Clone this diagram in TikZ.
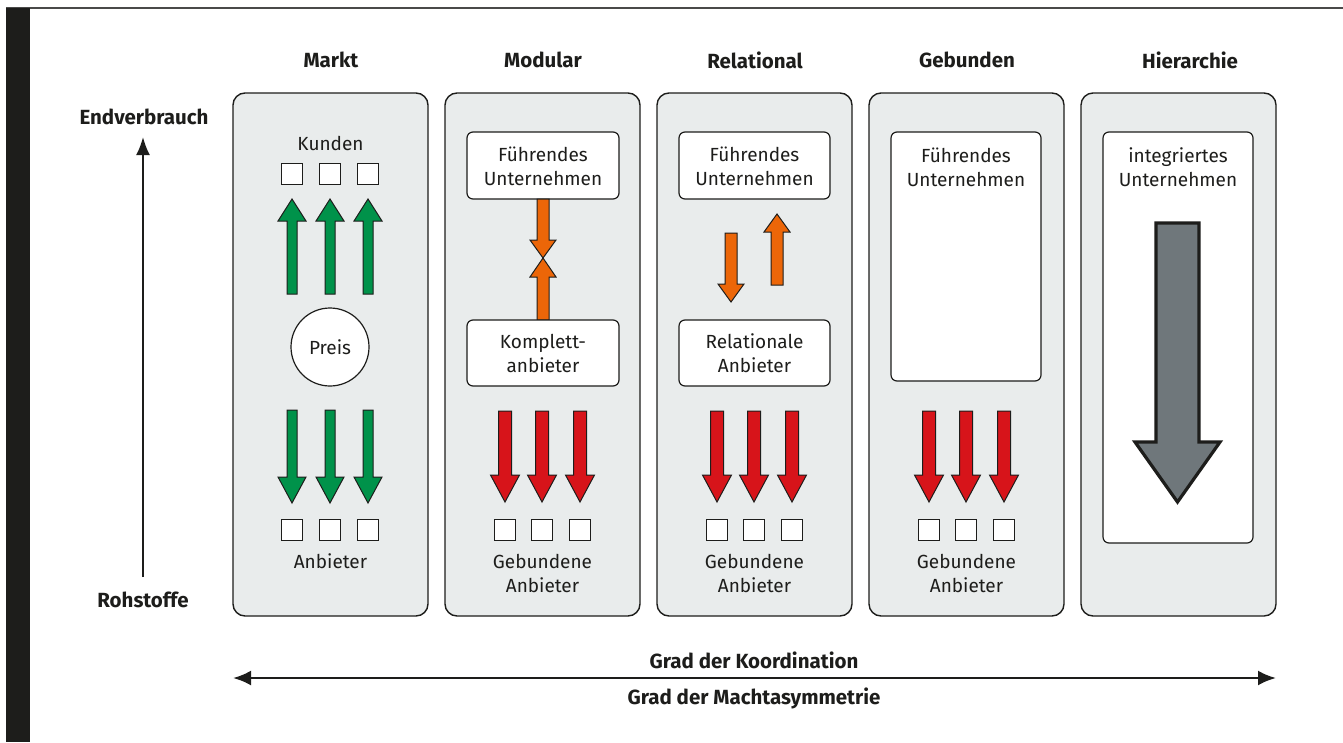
\documentclass[tikz,border=0pt]{standalone}
\usepackage{fontspec}
\setmainfont{Fira Sans}
\usetikzlibrary{arrows.meta}
\definecolor{ink}{HTML}{1D1D1B}
\definecolor{panelgray}{HTML}{E9ECEC}
\definecolor{mgreen}{HTML}{00924A}
\definecolor{mred}{HTML}{D7141A}
\definecolor{morange}{HTML}{EC6608}
\definecolor{hgray}{HTML}{6F777B}
\def\fatarrow[#1](#2,#3,#4,#5)(#6,#7){\draw[#1] ({#2-#6},#3) -- ({#2+#6},#3) -- ({#2+#6},#4) -- ({#2+#7},#4) -- (#2,#5) -- ({#2-#7},#4) -- ({#2-#6},#4) -- cycle;}
\def\smallbox(#1,#2){\draw[sqbox] ({#1-10.5},{#2-10.5}) rectangle ({#1+10.5},{#2+10.5});}

\begin{document}
\begin{tikzpicture}[x=1pt,y=-1pt,
	txt/.style={font=\fontsize{19}{24}\selectfont, text=ink, align=center, inner sep=0pt},
	ttl/.style={font=\fontsize{20.5}{24}\selectfont\bfseries, text=ink, align=center, inner sep=0pt},
	panel/.style={draw=ink, fill=panelgray, line width=1.4, rounded corners=12},
	whitebox/.style={draw=ink, fill=white, line width=1.2, rounded corners=6},
	sqbox/.style={draw=ink, fill=white, line width=1.3},
	green/.style={draw=ink, fill=mgreen, line width=1},
	red/.style={draw=ink, fill=mred, line width=1},
	orange/.style={draw=ink, fill=morange, line width=1}]
				\useasboundingbox (0,0) rectangle (1343,742);
				
				% frame
				\draw[ink!80, line width=1.5] (6,8) -- (1343,8);
				\fill[ink] (6,8) rectangle (30,742);
				
				% axis
				\node[ttl] (endv) at (144,117) {Endverbrauch};
				\node[ttl] (roh) at (143,600) {Rohstoffe};
				\coordinate (axbot) at (143,577);
				\coordinate (axtop) at (143,137);
				\draw[ink, line width=2, -{Latex[length=18pt,width=14pt]}] (axbot) -- (axtop);
				
				% titles
				\node[ttl] (tmarkt) at (331,60) {Markt};
				\node[ttl] (tmod) at (543,60) {Modular};
				\node[ttl] (trel) at (755,60) {Relational};
				\node[ttl] (tgeb) at (967,60) {Gebunden};
				\node[ttl] (thier) at (1190,60) {Hierarchie};
				
				% panels
				\draw[panel] (233,93) rectangle (428,616);
				\draw[panel] (445,93) rectangle (640,616);
				\draw[panel] (657,93) rectangle (852,616);
				\draw[panel] (869,93) rectangle (1064,616);
				\draw[panel] (1081,93) rectangle (1276,616);
				
				% Markt
				\node[txt] (kunden) at (330.5,143) {Kunden};
				\smallbox(292,174) \smallbox(330,174) \smallbox(368,174)
				\fatarrow[green](292,294,221,199)(5,14)
				\fatarrow[green](330,294,221,199)(5,14)
				\fatarrow[green](368,294,221,199)(5,14)
				\node[txt, draw=ink, fill=white, line width=1.2, circle, minimum size=78pt] (preis) at (330,347) {Preis};
				\fatarrow[green](292,410,477,503)(5,14)
				\fatarrow[green](330,410,477,503)(5,14)
				\fatarrow[green](368,410,477,503)(5,14)
				\smallbox(292,530) \smallbox(330,530) \smallbox(368,530)
				\node[txt] (anb) at (330.5,561) {Anbieter};
				
				% Modular
				\draw[whitebox] (467,132) rectangle (619,199);
				\node[txt] (modfu) at (543,166) {Führendes\\Unternehmen};
				\fatarrow[orange](543,199,240,258)(6,13)
				\fatarrow[orange](543,320,277,258)(6,13)
				\draw[whitebox] (467,320) rectangle (619,386);
				\node[txt] (modko) at (543,353) {Komplett-\\anbieter};
				\fatarrow[red](505,411,475,502)(6.5,14.5)
				\fatarrow[red](542,411,475,502)(6.5,14.5)
				\fatarrow[red](580,411,475,502)(6.5,14.5)
				\smallbox(505,530) \smallbox(542,530) \smallbox(580,530)
				\node[txt] (modgeb) at (542.5,573) {Gebundene\\Anbieter};
				
				% Relational
				\draw[whitebox] (679,132) rectangle (830,199);
				\node[txt] (relfu) at (754.5,166) {Führendes\\Unternehmen};
				\fatarrow[orange](731,233,284,302)(6,13)
				\fatarrow[orange](777,285,232,214)(6,13)
				\draw[whitebox] (679,320) rectangle (830,386);
				\node[txt] (relan) at (754.5,353) {Relationale\\Anbieter};
				\fatarrow[red](717,411,475,502)(6.5,14.5)
				\fatarrow[red](754,411,475,502)(6.5,14.5)
				\fatarrow[red](792,411,475,502)(6.5,14.5)
				\smallbox(717,530) \smallbox(754,530) \smallbox(792,530)
				\node[txt] (relgeb) at (754.5,573) {Gebundene\\Anbieter};
				
				% Gebunden
				\draw[whitebox] (891,132) rectangle (1041,381);
				\node[txt] (gebfu) at (966,167) {Führendes\\Unternehmen};
				\fatarrow[red](929,411,475,502)(6.5,14.5)
				\fatarrow[red](966,411,475,502)(6.5,14.5)
				\fatarrow[red](1004,411,475,502)(6.5,14.5)
				\smallbox(929,530) \smallbox(966,530) \smallbox(1004,530)
				\node[txt] (gebgeb) at (966.5,573) {Gebundene\\Anbieter};
				
				% Hierarchie
				\draw[whitebox] (1103,132) rectangle (1253,543);
				\node[txt] (hierint) at (1178,167) {integriertes\\Unternehmen};
				\fatarrow[draw=ink, fill=hgray, line width=3.2](1177.5,223,442,502)(21.5,42.5)
				
				% bottom axis
				\node[ttl] (koord) at (754,660) {Grad der Koordination};
				\node[ttl] (macht) at (754,698) {Grad der Machtasymmetrie};
				\coordinate (kl) at (233,678);
				\coordinate (kr) at (1276,678);
				\draw[ink, line width=2.6, {Latex[length=18pt,width=15pt]}-{Latex[length=18pt,width=15pt]}] (kl) -- (kr);
			\end{tikzpicture}
\end{document}
